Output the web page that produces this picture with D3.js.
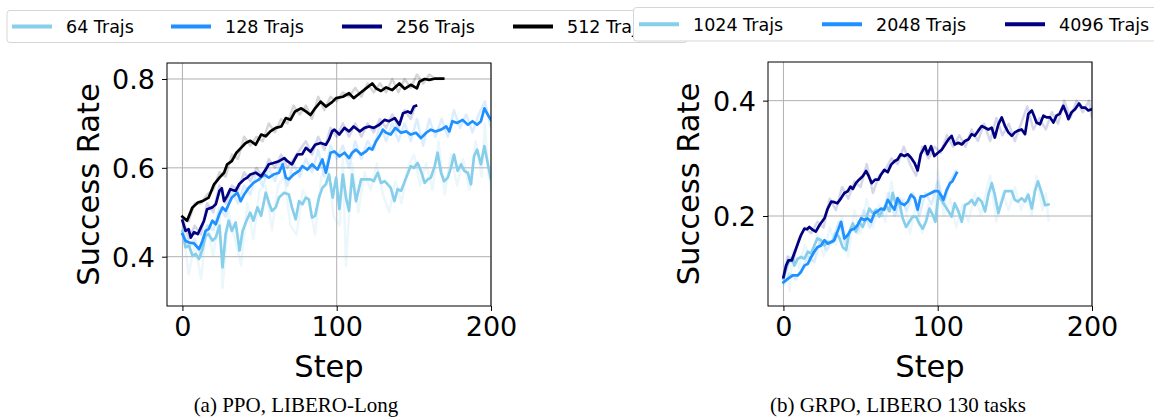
<!DOCTYPE html>
<html>
<head>
  <meta charset="utf-8">
  <script src="https://d3js.org/d3.v7.min.js"></script>
  <style>
    body { margin: 0; background: #fff; }
    svg text { font-family: "DejaVu Sans", sans-serif; fill: #000; }
    .grid line { stroke: #b0b0b0; stroke-width: 1px; }
    .spine { fill: none; stroke: #000; stroke-width: 1px; }
    .tick line { stroke: #000; }
    .caption { font-family: "Liberation Serif", "Times New Roman", serif !important; font-size: 21px; }
  </style>
</head>
<body>
<svg id="chart" width="1154" height="418"></svg>
<script>

// (a) PPO, LIBERO-Long -- smoothed curves [step, success rate]
var ppo64 = [[0,.458],[2,.421],[4.3,.425],[6.5,.402],[8.6,.406],[10.8,.395],[13,.417],[15,.447],[17,.451],[19.4,.436],[21.6,.443],[24,.470],[26,.376],[28,.451],[30,.481],[32,.458],[34.5,.477],[37,.414],[39,.458],[41.5,.481],[44,.499],[46,.481],[48.6,.511],[51,.492],[54,.544],[56,.522],[58,.503],[60.5,.511],[62.6,.533],[66,.544],[69,.540],[71,.511],[73.4,.484],[75.6,.525],[77.7,.518],[80,.533],[82,.529],[84,.488],[86,.492],[88.5,.533],[90.7,.555],[93,.563],[95,.585],[97.4,.533],[99.6,.578],[101.7,.507],[104,.585],[106,.533],[108,.503],[110,.585],[112.5,.525],[115.8,.574],[119,.574],[122,.574],[124,.570],[126.6,.589],[128.7,.566],[131,.570],[133,.563],[135,.555],[137.4,.525],[139.5,.552],[141.7,.548],[145,.578],[148,.604],[150,.600],[152.5,.611],[154.6,.593],[157,.566],[159,.574],[161,.578],[163.5,.604],[165.4,.634],[167.6,.589],[169.6,.570],[172,.578],[174,.600],[176,.630],[178.4,.593],[180.6,.608],[182.7,.593],[185,.589],[187,.563],[189,.626],[191,.641],[193.5,.608],[195.7,.649],[198,.608],[200,.574]];
var ppo128 = [[0,.451],[2,.436],[4.3,.432],[7.5,.430],[10.8,.417],[13,.436],[15,.458],[17,.462],[19.4,.481],[21.6,.473],[24,.496],[26,.511],[28,.503],[30,.518],[32,.533],[35.6,.544],[37.8,.525],[40,.540],[43,.555],[46,.566],[49.7,.574],[53,.585],[56,.578],[59,.585],[62.6,.589],[65,.608],[67,.578],[69,.574],[72,.585],[75.6,.593],[77.7,.604],[81,.596],[84,.608],[87.5,.596],[90.7,.619],[93,.589],[96,.634],[98.5,.637],[101.7,.626],[105,.634],[108,.622],[110,.634],[112.5,.641],[115.8,.630],[119,.637],[121,.645],[123,.641],[125.5,.660],[127.6,.671],[130,.686],[132,.679],[135,.675],[138,.690],[141.7,.679],[145,.682],[148,.675],[151.4,.679],[154.6,.667],[158,.679],[161,.686],[164,.682],[167.6,.686],[171,.693],[173,.682],[175,.705],[178,.701],[181.6,.708],[185,.697],[188,.705],[191,.697],[193.5,.705],[195.7,.734],[198,.719],[200,.708]];
var ppo256 = [[0,.481],[2,.458],[4,.462],[5.4,.443],[7.5,.455],[10,.451],[12,.466],[14,.481],[16,.507],[19.4,.511],[21.6,.518],[24,.548],[25.5,.554],[27,.525],[29,.537],[31,.552],[34.5,.548],[36.7,.563],[40,.574],[42,.578],[44,.585],[47.5,.589],[51,.581],[54,.596],[56,.608],[59,.611],[62.6,.615],[66,.622],[68,.615],[71,.608],[74.5,.630],[77.7,.631],[80,.645],[83,.636],[86,.652],[89.6,.656],[93,.652],[95,.664],[97,.682],[98.5,.686],[101.7,.675],[105,.690],[108,.682],[111,.693],[115,.682],[118,.690],[121,.693],[124,.690],[127.6,.697],[131,.708],[134,.705],[137.6,.712],[140.6,.697],[143,.723],[146,.727],[148,.723],[150,.738],[151.4,.740]];
var ppo512 = [[0,.490],[3,.481],[6.5,.511],[10,.522],[13,.525],[17,.533],[20.5,.563],[24,.578],[27,.589],[29,.608],[32,.615],[35,.634],[38,.645],[41,.656],[44,.661],[47.5,.652],[51,.675],[54,.671],[57,.682],[60.5,.690],[64,.693],[67,.712],[70,.708],[73,.727],[77,.734],[80,.727],[83,.719],[86,.734],[89.6,.749],[93,.738],[97,.748],[99.6,.757],[104,.760],[108,.768],[111,.757],[115,.768],[119,.779],[123,.790],[125.5,.779],[128.7,.773],[132,.781],[136,.775],[140.6,.790],[144,.778],[148,.787],[152,.779],[153.6,.794],[157,.800],[160,.798],[164,.801],[169,.801]];

// (a) raw (unsmoothed) curves, drawn faint
var ppo64Raw = [[0,.47],[4,.36],[8,.43],[12,.35],[16,.47],[20,.40],[24,.50],[26,.33],[30,.50],[34,.44],[38,.38],[42,.52],[46,.44],[50,.55],[54,.56],[58,.46],[62,.56],[66,.58],[70,.47],[74,.45],[78,.55],[82,.52],[86,.45],[90,.58],[94,.61],[98,.49],[102,.47],[104,.62],[106,.38],[110,.61],[114,.50],[118,.59],[122,.55],[126,.61],[130,.54],[134,.50],[138,.57],[142,.52],[146,.60],[150,.63],[154,.56],[158,.61],[162,.55],[166,.66],[170,.54],[174,.63],[178,.56],[182,.62],[186,.55],[190,.66],[194,.58],[196,.70],[198,.60],[200,.55]];
var ppo128Raw = [[0,.46],[4,.42],[8,.44],[12,.40],[16,.47],[20,.46],[24,.51],[28,.49],[32,.55],[36,.52],[40,.56],[44,.54],[48,.59],[52,.56],[56,.60],[60,.57],[64,.62],[68,.56],[72,.61],[76,.58],[80,.62],[84,.59],[88,.64],[92,.58],[96,.65],[100,.62],[104,.65],[108,.60],[112,.66],[116,.62],[120,.66],[124,.64],[128,.70],[132,.66],[136,.70],[140,.66],[144,.70],[148,.66],[152,.71],[156,.65],[160,.71],[164,.67],[168,.71],[172,.67],[176,.73],[180,.69],[184,.72],[188,.68],[192,.72],[196,.75],[200,.69]];
var ppo256Raw = [[0,.49],[4,.44],[8,.47],[12,.45],[16,.52],[20,.50],[24,.56],[28,.52],[32,.56],[36,.55],[40,.59],[44,.57],[48,.60],[52,.58],[56,.62],[60,.60],[64,.63],[68,.60],[72,.62],[76,.64],[80,.66],[84,.63],[88,.67],[92,.64],[96,.69],[100,.67],[104,.70],[108,.67],[112,.70],[116,.67],[120,.70],[124,.68],[128,.71],[132,.69],[136,.72],[140,.69],[144,.73],[148,.71],[151,.74]];
var ppo512Raw = [[0,.49],[4,.48],[8,.52],[12,.52],[16,.54],[20,.55],[24,.59],[28,.58],[32,.63],[36,.62],[40,.67],[44,.65],[48,.67],[52,.66],[56,.70],[60,.68],[64,.71],[68,.70],[72,.74],[76,.72],[80,.74],[84,.71],[88,.76],[92,.73],[96,.76],[100,.75],[104,.77],[108,.76],[112,.78],[116,.76],[120,.79],[124,.77],[128,.79],[132,.77],[136,.80],[140,.77],[144,.80],[148,.78],[152,.81],[156,.79],[160,.81],[164,.80],[169,.80]];

// (b) GRPO, LIBERO 130 tasks -- smoothed curves
var grpo1024 = [[0,.091],[1.7,.108],[3.9,.123],[6,.129],[7,.114],[9.3,.126],[11.4,.129],[13.6,.126],[15.8,.138],[18,.135],[20,.149],[22,.161],[24.4,.158],[26.6,.149],[28.7,.155],[32,.155],[34,.170],[36,.164],[38.4,.146],[40.6,.141],[42.8,.173],[45,.187],[47,.173],[49,.190],[51.4,.181],[53.6,.196],[55.7,.213],[57.9,.205],[60,.211],[62.2,.199],[64.4,.211],[66.5,.219],[68.7,.208],[70.8,.240],[73,.219],[75,.225],[77.3,.196],[79.5,.181],[81.6,.190],[83.8,.199],[86,.199],[88,.187],[90.3,.178],[92.4,.190],[94.6,.213],[96.8,.202],[98.5,.190],[100.4,.236],[103.7,.222],[107,.208],[109,.199],[111,.222],[113.4,.208],[115.6,.190],[117.7,.219],[120,.222],[122,.228],[124,.219],[126.3,.231],[128.5,.225],[130.7,.208],[132.8,.237],[135,.257],[137,.237],[139.3,.205],[141.5,.225],[143.6,.243],[145.8,.243],[148,.243],[150,.228],[152,.225],[154.4,.231],[156.6,.225],[158.7,.237],[161,.213],[163,.243],[165,.260],[167.4,.240],[169.6,.219],[171.8,.220]];
var grpo2048 = [[0,.085],[2.8,.091],[6,.097],[9.3,.097],[11.4,.103],[13.6,.114],[15.8,.117],[18,.129],[20,.138],[22,.146],[24.4,.149],[26.6,.158],[28.7,.152],[31,.155],[33,.158],[35,.173],[37.4,.190],[39.5,.161],[41.7,.167],[43.8,.176],[46,.178],[48,.184],[50.3,.196],[52.5,.193],[54.6,.196],[56.8,.190],[59,.205],[61,.208],[63.3,.213],[65.4,.211],[67.6,.228],[69.8,.219],[72,.211],[74,.231],[76,.222],[78.4,.219],[80.6,.225],[82.7,.237],[85,.231],[87,.211],[89,.234],[91.4,.234],[93.5,.237],[95.7,.240],[97.8,.243],[100.4,.243],[102.6,.234],[103.7,.228],[105.8,.245],[108,.257],[109.5,.260],[111.2,.269],[112.3,.275]];
var grpo4096 = [[0,.094],[1.7,.114],[3.2,.123],[5.4,.123],[7,.135],[9.3,.152],[11.4,.167],[13.6,.178],[15.3,.177],[16.8,.181],[19,.176],[21,.173],[23.3,.184],[26.6,.196],[28.7,.213],[31,.225],[33,.224],[35,.222],[37.4,.231],[39.5,.240],[41.7,.243],[43.4,.251],[45,.247],[47,.257],[49,.263],[51.4,.269],[53.6,.278],[55.3,.269],[57.2,.257],[59.4,.263],[61.6,.263],[63.3,.272],[65.4,.280],[67.6,.276],[69.8,.289],[72,.295],[74,.298],[76,.307],[78.4,.304],[80.6,.307],[82.7,.301],[85,.292],[87,.279],[89,.307],[91.8,.321],[93.5,.307],[95.7,.321],[97.8,.304],[100.4,.310],[102.6,.315],[104.8,.324],[107,.333],[109,.339],[111,.324],[113.4,.327],[115.6,.324],[117.7,.330],[120,.333],[122,.342],[124,.339],[126.3,.348],[128.5,.356],[130.7,.353],[132.8,.350],[135,.353],[137,.336],[139.3,.359],[141.5,.371],[143.6,.356],[145.8,.345],[148,.339],[150,.345],[152,.348],[154.4,.350],[156.6,.342],[158.7,.377],[161,.383],[162.4,.374],[164,.362],[166.3,.359],[168.5,.374],[170.6,.371],[172.8,.371],[175,.362],[177,.374],[179,.377],[181.4,.391],[183.6,.377],[184.7,.368],[186.8,.380],[189,.385],[191.6,.395],[193.3,.388],[195.5,.388],[197.6,.383],[199.8,.385]];

var grpo1024Raw = [[0,.09],[2,.13],[4,.07],[6,.14],[10,.11],[14,.15],[18,.12],[22,.17],[26,.13],[30,.18],[34,.15],[38,.20],[42,.13],[46,.21],[50,.17],[54,.23],[58,.18],[62,.22],[66,.19],[70,.26],[74,.20],[78,.23],[82,.17],[86,.22],[90,.17],[94,.22],[98,.19],[100,.28],[104,.20],[108,.23],[112,.18],[116,.22],[120,.19],[124,.24],[128,.20],[132,.25],[134,.27],[138,.19],[142,.24],[146,.21],[150,.25],[154,.21],[158,.24],[161,.20],[164,.27],[168,.21],[170,.24],[172,.19]];
var grpo2048Raw = [[0,.08],[4,.10],[8,.09],[12,.11],[16,.13],[20,.12],[24,.16],[28,.14],[32,.16],[36,.19],[40,.15],[44,.18],[48,.17],[52,.21],[56,.18],[60,.21],[64,.20],[68,.24],[72,.20],[76,.23],[80,.21],[84,.24],[88,.20],[92,.24],[96,.22],[100,.26],[104,.22],[108,.26],[112,.28]];
var grpo4096Raw = [[0,.09],[3,.13],[6,.12],[10,.16],[14,.18],[18,.17],[22,.19],[26,.18],[30,.23],[34,.21],[38,.25],[42,.23],[46,.26],[50,.25],[54,.29],[58,.24],[62,.27],[66,.28],[70,.30],[74,.29],[78,.32],[82,.29],[86,.27],[90,.32],[94,.30],[98,.32],[102,.31],[106,.34],[110,.32],[114,.34],[118,.32],[122,.35],[126,.33],[130,.36],[134,.33],[138,.37],[142,.34],[146,.36],[150,.33],[154,.36],[158,.39],[162,.35],[166,.37],[170,.35],[174,.38],[178,.36],[182,.40],[186,.37],[190,.40],[194,.38],[198,.40],[200,.37]];

var xTicks = [0, 100, 200];
var yTicksA = [0.4, 0.6, 0.8];
var yTicksB = [0.2, 0.4];
var labelsA = ["64 Trajs", "128 Trajs", "256 Trajs", "512 Trajs"];
var labelsB = ["1024 Trajs", "2048 Trajs", "4096 Trajs"];
var colorsA = ["#87ceeb", "#1e90ff", "#000080", "#000000"];
var colorsB = ["#87ceeb", "#1e90ff", "#000080"];

var svg = d3.select("#chart");

function drawPanel(opts) {
  var x = d3.scaleLinear().domain([-10, 200]).range([opts.left, opts.right]);
  var y = d3.scaleLinear().domain(opts.yDomain).range([opts.bottom, opts.top]);
  var g = svg.append("g");

  var grid = g.append("g").attr("class", "grid");
  grid.selectAll("line.gx").data(xTicks).enter().append("line")
      .attr("x1", d => x(d)).attr("x2", d => x(d))
      .attr("y1", opts.top).attr("y2", opts.bottom);
  grid.selectAll("line.gy").data(opts.yTicks).enter().append("line")
      .attr("x1", opts.left).attr("x2", opts.right)
      .attr("y1", d => y(d)).attr("y2", d => y(d));

  var line = d3.line().x(d => x(d[0])).y(d => y(d[1]));
  var clip = "clip" + opts.id;
  g.append("clipPath").attr("id", clip).append("rect")
      .attr("x", opts.left).attr("y", opts.top)
      .attr("width", opts.right - opts.left).attr("height", opts.bottom - opts.top);

  var plot = g.append("g").attr("clip-path", "url(#" + clip + ")");
  opts.raw.forEach(function(s, i) {
    plot.append("path").attr("d", line(s)).attr("fill", "none")
        .attr("stroke", opts.colors[i]).attr("stroke-opacity", 0.16)
        .attr("stroke-width", 2.5).attr("stroke-linejoin", "round");
  });
  opts.series.forEach(function(s, i) {
    plot.append("path").attr("d", line(s)).attr("fill", "none")
        .attr("stroke", opts.colors[i]).attr("stroke-width", 2.7)
        .attr("stroke-linejoin", "round").attr("stroke-linecap", "square");
  });

  g.append("rect").attr("class", "spine")
      .attr("x", opts.left).attr("y", opts.top)
      .attr("width", opts.right - opts.left).attr("height", opts.bottom - opts.top);

  var xAxis = g.append("g").attr("transform", "translate(0," + opts.bottom + ")")
      .call(d3.axisBottom(x).tickValues(xTicks).tickSize(5).tickPadding(5));
  xAxis.select(".domain").remove();
  xAxis.selectAll("text").style("font-size", "27px").attr("dy", "0.75em");

  var yAxis = g.append("g").attr("transform", "translate(" + opts.left + ",0)")
      .call(d3.axisLeft(y).tickValues(opts.yTicks).tickFormat(d3.format(".1f")).tickSize(5).tickPadding(7));
  yAxis.select(".domain").remove();
  yAxis.selectAll("text").style("font-size", "27px").attr("dy", "0.36em");

  var cx = (opts.left + opts.right) / 2;
  g.append("text").attr("x", cx).attr("y", 377).attr("text-anchor", "middle")
      .style("font-size", "30.5px").text("Step");
  g.append("text").attr("transform", "translate(" + opts.yLabelX + "," + ((opts.top + opts.bottom) / 2) + ") rotate(-90)")
      .attr("text-anchor", "middle").style("font-size", "30.5px").text("Success Rate");
  g.append("text").attr("class", "caption").attr("x", opts.captionX).attr("y", 412)
      .attr("text-anchor", "middle").text(opts.caption);
}

drawPanel({
  id: "a", left: 167, right: 491, top: 63, bottom: 306,
  yDomain: [0.289, 0.836], yTicks: yTicksA, yLabelX: 99,
  series: [ppo64, ppo128, ppo256, ppo512],
  raw: [ppo64Raw, ppo128Raw, ppo256Raw, ppo512Raw],
  colors: colorsA, captionX: 296, caption: "(a) PPO, LIBERO-Long"
});

drawPanel({
  id: "b", left: 768, right: 1092, top: 62, bottom: 306,
  yDomain: [0.044, 0.467], yTicks: yTicksB, yLabelX: 699,
  series: [grpo1024, grpo2048, grpo4096],
  raw: [grpo1024Raw, grpo2048Raw, grpo4096Raw],
  colors: colorsB, captionX: 898, caption: "(b) GRPO, LIBERO 130 tasks"
});

function drawLegend(x0, y0, w, h, labels, colors, xs) {
  var lg = svg.append("g");
  lg.append("rect").attr("x", x0).attr("y", y0).attr("width", w).attr("height", h)
      .attr("rx", 3).attr("fill", "#fff").attr("stroke", "#d6d6d6");
  labels.forEach(function(l, i) {
    lg.append("line").attr("x1", xs[i]).attr("x2", xs[i] + 40)
        .attr("y1", y0 + h / 2).attr("y2", y0 + h / 2)
        .attr("stroke", colors[i]).attr("stroke-width", 4);
    lg.append("text").attr("x", xs[i] + 54).attr("y", y0 + h / 2).attr("dy", "0.36em")
        .style("font-size", "17.5px").text(l);
  });
}

drawLegend(7, 10.5, 680, 32, labelsA, colorsA, [12, 171, 342, 513]);
drawLegend(633.5, 7.5, 530, 33.5, labelsB, colorsB, [639, 822, 1005]);

</script>
</body>
</html>
